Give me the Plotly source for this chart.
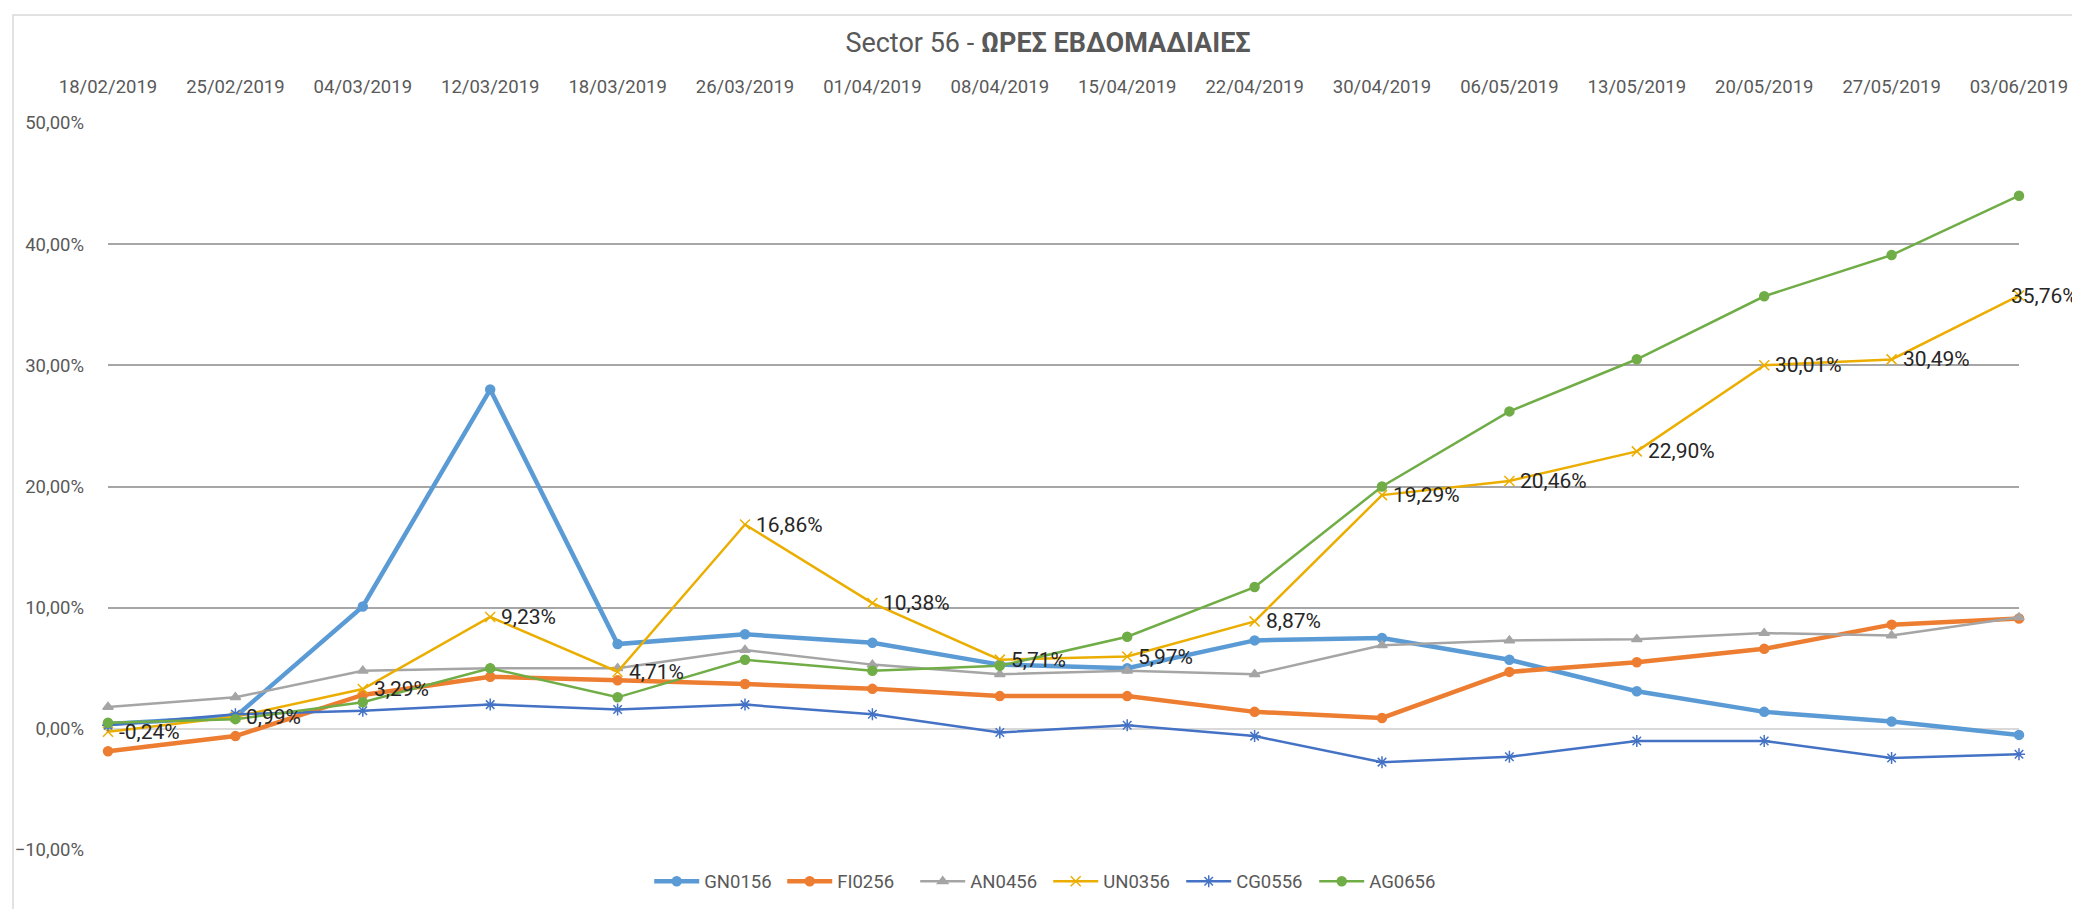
import plotly.graph_objects as go

dates = ["18/02/2019", "25/02/2019", "04/03/2019", "12/03/2019", "18/03/2019", "26/03/2019",
         "01/04/2019", "08/04/2019", "15/04/2019", "22/04/2019", "30/04/2019", "06/05/2019",
         "13/05/2019", "20/05/2019", "27/05/2019", "03/06/2019"]

# values in percent
gn0156 = [0.4, 1.0, 10.1, 28.0, 7.0, 7.8, 7.1, 5.3, 5.0, 7.3, 7.5, 5.7, 3.1, 1.4, 0.6, -0.5]
fi0256 = [-1.85, -0.6, 2.8, 4.3, 4.0, 3.7, 3.3, 2.7, 2.7, 1.4, 0.9, 4.7, 5.5, 6.6, 8.6, 9.1]
an0456 = [1.8, 2.6, 4.8, 5.0, 5.0, 6.5, 5.3, 4.5, 4.8, 4.5, 6.9, 7.3, 7.4, 7.9, 7.7, 9.2]
un0356 = [-0.24, 0.99, 3.29, 9.23, 4.71, 16.86, 10.38, 5.71, 5.97, 8.87, 19.29, 20.46, 22.90, 30.01, 30.49, 35.76]
cg0556 = [0.3, 1.2, 1.5, 2.0, 1.6, 2.0, 1.2, -0.3, 0.3, -0.6, -2.75, -2.3, -1.0, -1.0, -2.4, -2.1]
ag0656 = [0.5, 0.8, 2.2, 5.0, 2.6, 5.7, 4.8, 5.2, 7.6, 11.7, 20.0, 26.2, 30.5, 35.7, 39.1, 44.0]

FONT = "Roboto, Arial, sans-serif"
GRAY_TXT = "#595959"
TICK_SIZE = 18.5

series = [
    ("GN0156", gn0156, "#5B9BD5", 4.5, "circle", 9),
    ("FI0256", fi0256, "#ED7D31", 4.5, "circle", 9),
    ("AN0456", an0456, "#A5A5A5", 2.5, "triangle-up", 9),
    ("UN0356", un0356, "#EBAE00", 2.5, "x-thin-open", 10),
    ("CG0556", cg0556, "#4472C4", 2.5, "asterisk-open", 10),
    ("AG0656", ag0656, "#70AD47", 2.5, "circle", 9),
]

fig = go.Figure()
for name, vals, color, lw, sym, msize in series:
    fig.add_trace(go.Scatter(
        x=dates, y=[v / 100 for v in vals], name=name, mode="lines+markers",
        line=dict(color=color, width=lw),
        marker=dict(symbol=sym, size=msize, color=color,
                    line=dict(color=color, width=1.5)),
        cliponaxis=False, hoverinfo="skip",
    ))

# data labels of UN0356 (to the right of each point; last one pulled back inside the chart)
annotations = []
for i, (d, v) in enumerate(zip(dates, un0356)):
    last = i == len(un0356) - 1
    annotations.append(dict(
        x=d, y=v / 100, xref="x", yref="y",
        text=("%.2f%%" % v).replace(".", ","),
        showarrow=False, yanchor="middle",
        xanchor="right" if last else "left",
        xshift=61 if last else 9,
        font=dict(family=FONT, size=21, color="#262626"),
    ))

fig.update_layout(
    width=2080, height=909,
    paper_bgcolor="white", plot_bgcolor="white",
    margin=dict(l=100, r=69, t=115, b=67, autoexpand=False),
    separators=",.",
    font=dict(family=FONT, color=GRAY_TXT, size=TICK_SIZE),
    title=dict(
        text="Sector 56 - <b>ΩΡΕΣ ΕΒΔΟΜΑΔΙΑΙΕΣ</b>",
        x=0.5, xanchor="center", y=1 - 35 / 909, yanchor="middle",
        font=dict(family=FONT, size=27, color=GRAY_TXT),
    ),
    showlegend=True,
    legend=dict(
        orientation="h", x=0.492, xanchor="center", y=-0.0436, yanchor="middle",
        font=dict(family=FONT, size=TICK_SIZE, color=GRAY_TXT),
        itemwidth=45, entrywidth=73, bgcolor="rgba(0,0,0,0)",
    ),
    xaxis=dict(
        type="category", side="top", range=[0, len(dates) - 1],
        showgrid=False, showline=False, zeroline=False, ticks="",
        tickfont=dict(family=FONT, size=TICK_SIZE, color=GRAY_TXT),
        ticklabelstandoff=25, automargin=False, fixedrange=True,
    ),
    yaxis=dict(
        range=[-0.10, 0.50], dtick=0.10, tickformat=".2%",
        showgrid=True, gridcolor="#A6A6A6", gridwidth=1.5,
        zeroline=True, zerolinecolor="#D9D9D9", zerolinewidth=1.5,
        showline=False, ticks="",
        tickfont=dict(family=FONT, size=TICK_SIZE, color=GRAY_TXT),
        ticklabelstandoff=23, automargin=False, fixedrange=True,
    ),
    annotations=annotations,
    shapes=[dict(
        type="rect", xref="paper", yref="paper",
        x0=(5 - 100) / 1911, x1=(2090 - 100) / 1911,
        y0=(842 - 920) / 727, y1=(842 - 7) / 727,
        line=dict(color="#D9D9D9", width=1.5), fillcolor="rgba(0,0,0,0)", layer="below",
    )],
)

fig.write_html("out.html")
